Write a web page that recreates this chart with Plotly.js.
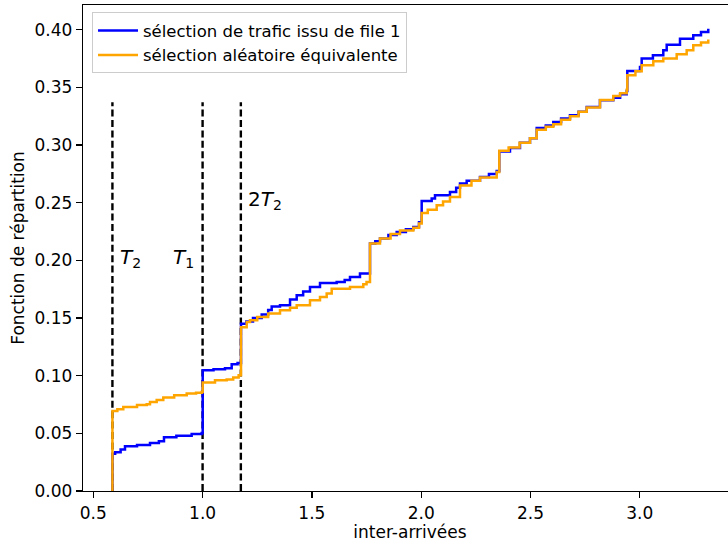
<!DOCTYPE html>
<html>
<head>
<meta charset="utf-8">
<script src="https://cdn.plot.ly/plotly-3.0.1.min.js"></script>
<style>
html,body{margin:0;padding:0;overflow:hidden;background:#fff;}
#chart{width:740px;height:542px;}
</style>
</head>
<body>
<div id="chart"></div>
<script>
// Empirical CDF of the traffic selected from file 1 (blue)
const blueX = [0.5875,0.5875,0.60,0.625,0.645,0.70,0.7594,0.80,0.8234,0.88,0.95,0.9959,1.0005,1.05,1.1025,1.1331,1.16,1.1757,1.20,1.2306,1.2704,1.30,1.3161,1.3541,1.40,1.4305,1.46,1.4913,1.5371,1.6134,1.65,1.6743,1.72,1.7658,1.79,1.8115,1.85,1.8879,1.93,1.9639,1.99,2.0023,2.048,2.0631,2.1317,2.16,2.1775,2.2081,2.269,2.31,2.3454,2.3573,2.4062,2.452,2.4977,2.5284,2.57,2.6043,2.64,2.6807,2.72,2.7571,2.8179,2.8788,2.91,2.9401,2.9428,3.0009,3.0087,3.06,3.1075,3.1231,3.1839,3.2447,3.28,3.3133];
const blueY = [0,0.0324,0.0335,0.036,0.0388,0.040,0.0416,0.0432,0.0466,0.048,0.0495,0.0503,0.1047,0.1055,0.1064,0.110,0.111,0.145,0.147,0.150,0.153,0.157,0.160,0.161,0.166,0.1697,0.173,0.177,0.1804,0.1813,0.183,0.1856,0.1886,0.2146,0.2165,0.219,0.222,0.2246,0.227,0.229,0.233,0.2515,0.2536,0.2565,0.2593,0.263,0.2666,0.269,0.2723,0.275,0.2775,0.2945,0.2975,0.302,0.306,0.3148,0.317,0.320,0.323,0.3258,0.329,0.333,0.3389,0.341,0.344,0.347,0.3643,0.3677,0.375,0.378,0.3822,0.3871,0.3923,0.3952,0.398,0.401];

// Empirical CDF of the equivalent random selection (orange)
const orangeX = [0.5875,0.5875,0.61,0.6372,0.70,0.7443,0.7594,0.79,0.8202,0.87,0.9273,0.97,0.9959,1.0005,1.0567,1.1102,1.14,1.165,1.1757,1.2017,1.2168,1.25,1.30,1.3541,1.40,1.4305,1.4913,1.5371,1.5677,1.5906,1.6743,1.7351,1.75,1.7658,1.8115,1.86,1.903,1.9639,1.99,2.0023,2.03,2.0709,2.10,2.1317,2.1775,2.23,2.269,2.3454,2.3573,2.40,2.45,2.4977,2.5284,2.57,2.6043,2.64,2.6807,2.72,2.7571,2.8179,2.8788,2.91,2.9401,2.9428,2.98,3.0087,3.0618,3.1075,3.1688,3.2145,3.2447,3.28,3.3133];
const orangeY = [0,0.0694,0.071,0.0729,0.0745,0.0752,0.0772,0.079,0.081,0.083,0.0845,0.0852,0.0859,0.094,0.096,0.0966,0.0985,0.1003,0.142,0.1466,0.148,0.151,0.154,0.1567,0.159,0.161,0.1654,0.1683,0.1712,0.1755,0.177,0.1793,0.1813,0.2146,0.219,0.223,0.226,0.2284,0.232,0.241,0.244,0.2478,0.251,0.255,0.265,0.269,0.2718,0.2767,0.295,0.298,0.302,0.306,0.3134,0.316,0.318,0.322,0.325,0.329,0.3325,0.339,0.3426,0.345,0.3481,0.3605,0.364,0.3692,0.3727,0.375,0.3788,0.3822,0.3866,0.389,0.3915];

// Reference thresholds (dashed lines) and their labels
const thresholdX = [0.5875, 1.0, 1.175];
const labelText = ['<i>T</i><sub>2</sub>', '<i>T</i><sub>1</sub>', '2<i>T</i><sub>2</sub>'];
const labelX = [0.612, 0.855, 1.2];
const labelY = [0.202, 0.202, 0.252];

const seriesNames = ['sélection de trafic issu de file 1', 'sélection aléatoire équivalente'];
const xTicks = [0.5, 1.0, 1.5, 2.0, 2.5, 3.0];
const yTicks = [0, 0.05, 0.10, 0.15, 0.20, 0.25, 0.30, 0.35, 0.40];

const font = 'DejaVu Sans';
const fs = 17;

const traces = [
  {x: blueX, y: blueY, name: seriesNames[0], type: 'scatter', mode: 'lines',
   line: {color: '#0000ff', width: 2.5, shape: 'hv'}, legendgroup: 'a'},
  {x: orangeX, y: orangeY, name: seriesNames[1], type: 'scatter', mode: 'lines',
   line: {color: '#ffa500', width: 2.5, shape: 'hv'}, legendgroup: 'b'}
];

const shapes = thresholdX.map(v => ({
  type: 'line', xref: 'x', yref: 'paper', x0: v, x1: v, y0: 0, y1: 0.8,
  line: {color: 'black', width: 2.4, dash: '7px,3.4px'}, layer: 'below'
}));

const annotations = labelText.map((t, i) => ({
  text: t, x: labelX[i], y: labelY[i], xref: 'x', yref: 'y',
  xanchor: 'left', yanchor: 'middle', showarrow: false,
  font: {family: font, size: 20, color: 'black'}
}));

const axisCommon = {
  showgrid: false, zeroline: false, showline: true, mirror: true,
  linecolor: 'black', linewidth: 1.3, ticks: 'outside', ticklen: 6,
  tickwidth: 1.3, tickcolor: 'black',
  tickfont: {family: font, size: fs, color: 'black'}
};

const layout = {
  width: 740, height: 542,
  margin: {l: 83, r: 3, t: 5, b: 51},
  paper_bgcolor: 'white', plot_bgcolor: 'white',
  font: {family: font, size: fs, color: 'black'},
  showlegend: true,
  legend: {x: 0.0138, y: 0.985, xanchor: 'left', yanchor: 'top',
    bordercolor: '#cccccc', borderwidth: 1, bgcolor: 'rgba(255,255,255,0.8)',
    font: {family: font, size: 16.5, color: 'black'}, tracegroupgap: 0, itemwidth: 40},
  xaxis: Object.assign({}, axisCommon, {
    range: [0.4529, 3.4447], tickvals: xTicks, tickformat: '.1f',
    title: {text: 'inter-arrivées', font: {family: font, size: fs, color: 'black'}, standoff: 4}
  }),
  yaxis: Object.assign({}, axisCommon, {
    range: [0, 0.4215], tickvals: yTicks, tickformat: '.2f',
    title: {text: 'Fonction de répartition', font: {family: font, size: fs, color: 'black'}, standoff: 5}
  }),
  shapes: shapes,
  annotations: annotations,
  hovermode: false
};

Plotly.newPlot('chart', traces, layout, {staticPlot: true, displayModeBar: false});
</script>
</body>
</html>
